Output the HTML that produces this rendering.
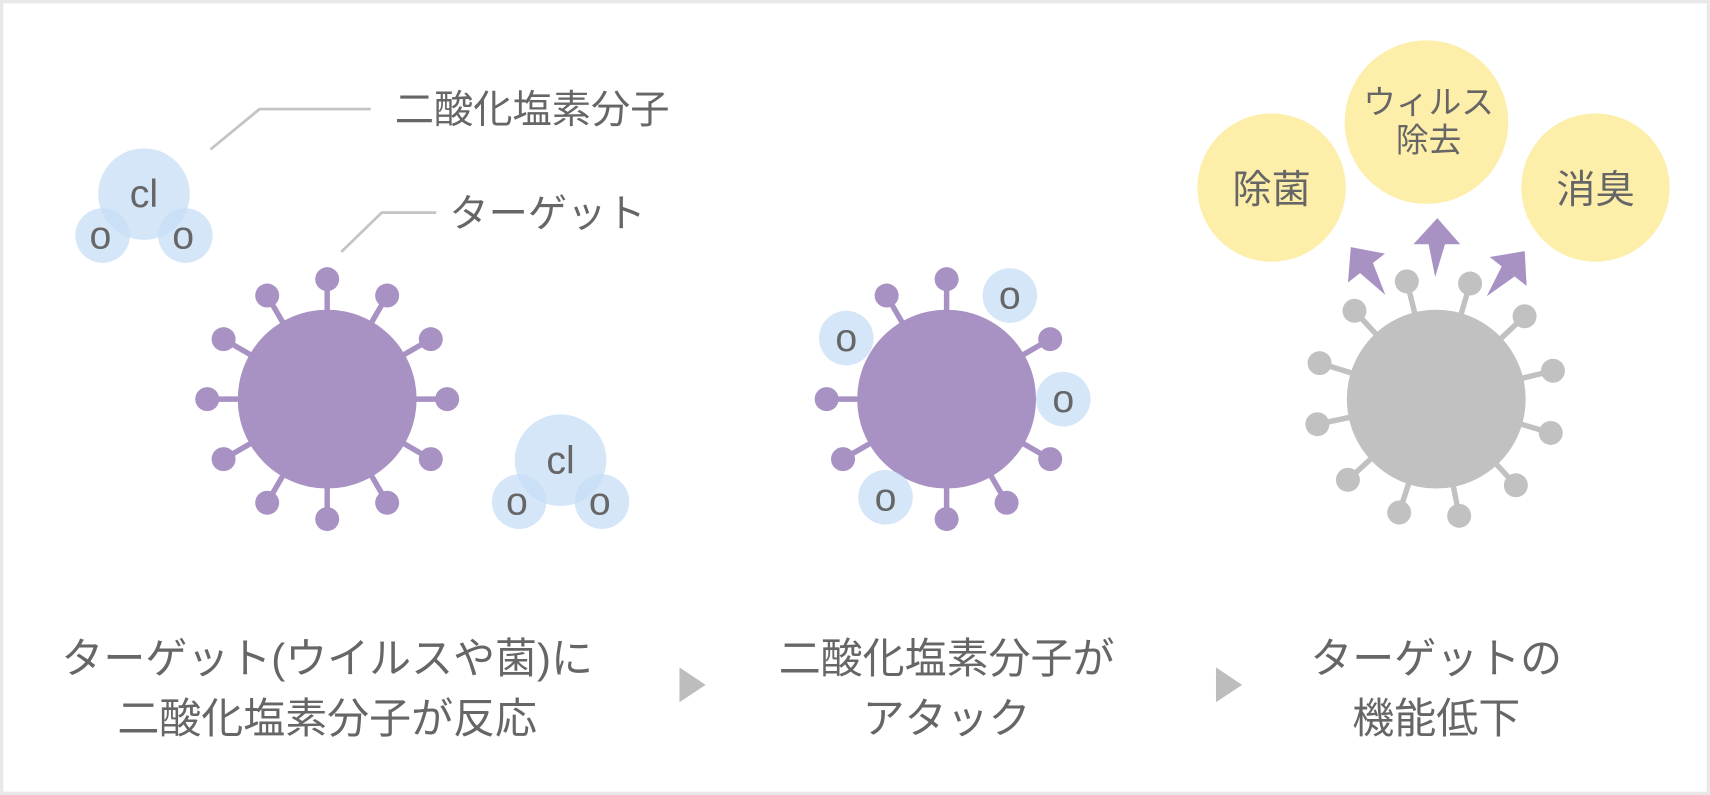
<!DOCTYPE html>
<html><head><meta charset="utf-8"><style>
html,body{margin:0;padding:0;background:#fff}
svg{display:block}
text{font-family:"Liberation Sans","Noto Sans CJK JP",sans-serif;fill:#666}
</style></head><body>
<svg width="1710" height="795" viewBox="0 0 1568 729" xmlns="http://www.w3.org/2000/svg">
<rect x="1.5" y="1.5" width="1565" height="726" fill="#fff" stroke="#e8e8e8" stroke-width="3"/>
<defs>
<g id="pv">
 <g stroke="#a892c3" stroke-width="5">
  <line x1="0" y1="0" x2="0" y2="-110"/><line x1="0" y1="0" x2="55" y2="-95"/><line x1="0" y1="0" x2="95" y2="-55"/>
  <line x1="0" y1="0" x2="110" y2="0"/><line x1="0" y1="0" x2="95" y2="55"/><line x1="0" y1="0" x2="55" y2="95"/>
  <line x1="0" y1="0" x2="0" y2="110"/><line x1="0" y1="0" x2="-55" y2="95"/><line x1="0" y1="0" x2="-95" y2="55"/>
  <line x1="0" y1="0" x2="-110" y2="0"/><line x1="0" y1="0" x2="-95" y2="-55"/><line x1="0" y1="0" x2="-55" y2="-95"/>
 </g>
 <g fill="#a892c3">
  <circle r="82"/>
  <circle cx="0" cy="-110" r="11"/><circle cx="55" cy="-95" r="11"/><circle cx="95" cy="-55" r="11"/>
  <circle cx="110" cy="0" r="11"/><circle cx="95" cy="55" r="11"/><circle cx="55" cy="95" r="11"/>
  <circle cx="0" cy="110" r="11"/><circle cx="-55" cy="95" r="11"/><circle cx="-95" cy="55" r="11"/>
  <circle cx="-110" cy="0" r="11"/><circle cx="-95" cy="-55" r="11"/><circle cx="-55" cy="-95" r="11"/>
 </g>
</g>
<g id="mol">
 <g fill="#c6ddf6" fill-opacity="0.75">
  <circle cx="0" cy="0" r="42"/><circle cx="-38" cy="38" r="25"/><circle cx="38" cy="38" r="25"/>
 </g>
 <text x="0" y="12" font-size="36" text-anchor="middle">cl</text>
 <text x="-40" y="50" font-size="36" text-anchor="middle">o</text>
 <text x="36" y="50" font-size="36" text-anchor="middle">o</text>
</g>
<g id="o">
 <circle r="25" fill="#c6ddf6" fill-opacity="0.75"/>
 <text x="0" y="12" font-size="36" text-anchor="middle">o</text>
</g>
</defs>

<use href="#mol" x="132" y="178"/>
<use href="#mol" x="514" y="422"/>
<polyline points="193,137 238,100 340,100" fill="none" stroke="#c4c4c4" stroke-width="2.5"/>
<polyline points="313,231 350,195 400,195" fill="none" stroke="#c4c4c4" stroke-width="2.5"/>
<text x="362" y="113" font-size="36">二酸化塩素分子</text>
<text x="412" y="208" font-size="36">ターゲット</text>
<use href="#pv" x="300" y="366"/>

<g transform="translate(868 366)">
 <g stroke="#a892c3" stroke-width="5">
  <line x1="0" y1="0" x2="0" y2="-110"/><line x1="0" y1="0" x2="95" y2="-55"/>
  <line x1="0" y1="0" x2="95" y2="55"/><line x1="0" y1="0" x2="55" y2="95"/>
  <line x1="0" y1="0" x2="0" y2="110"/><line x1="0" y1="0" x2="-95" y2="55"/>
  <line x1="0" y1="0" x2="-110" y2="0"/><line x1="0" y1="0" x2="-55" y2="-95"/>
 </g>
 <g fill="#a892c3">
  <circle r="82"/>
  <circle cx="0" cy="-110" r="11"/><circle cx="95" cy="-55" r="11"/>
  <circle cx="95" cy="55" r="11"/><circle cx="55" cy="95" r="11"/>
  <circle cx="0" cy="110" r="11"/><circle cx="-95" cy="55" r="11"/>
  <circle cx="-110" cy="0" r="11"/><circle cx="-55" cy="-95" r="11"/>
 </g>
</g>
<use href="#o" x="926" y="271"/>
<use href="#o" x="776" y="310"/>
<use href="#o" x="975" y="366"/>
<use href="#o" x="812" y="456"/>

<g stroke="#c1c1c1" stroke-width="5">
 <line x1="1317" y1="366" x2="1242" y2="285"/><line x1="1317" y1="366" x2="1290" y2="258"/><line x1="1317" y1="366" x2="1348" y2="260"/>
 <line x1="1317" y1="366" x2="1398" y2="290"/><line x1="1317" y1="366" x2="1210" y2="333"/><line x1="1317" y1="366" x2="1424" y2="340"/>
 <line x1="1317" y1="366" x2="1208" y2="389"/><line x1="1317" y1="366" x2="1422" y2="397"/><line x1="1317" y1="366" x2="1236" y2="440"/>
 <line x1="1317" y1="366" x2="1390" y2="445"/><line x1="1317" y1="366" x2="1283" y2="470"/><line x1="1317" y1="366" x2="1338" y2="473"/>
</g>
<g fill="#c1c1c1">
 <circle cx="1317" cy="366" r="82"/>
 <circle cx="1242" cy="285" r="11"/><circle cx="1290" cy="258" r="11"/><circle cx="1348" cy="260" r="11"/>
 <circle cx="1398" cy="290" r="11"/><circle cx="1210" cy="333" r="11"/><circle cx="1424" cy="340" r="11"/>
 <circle cx="1208" cy="389" r="11"/><circle cx="1422" cy="397" r="11"/><circle cx="1236" cy="440" r="11"/>
 <circle cx="1390" cy="445" r="11"/><circle cx="1283" cy="470" r="11"/><circle cx="1338" cy="473" r="11"/>
</g>
<g fill="#a892c3">
 <polygon points="1318,200 1339,224 1325,224 1316,254 1310,224 1296,224"/>
 <g transform="translate(-6 -16)"><polygon points="1318,200 1339,224 1325,224 1316,254 1310,224 1296,224" transform="rotate(-38 1316 230) translate(-66 -4)"/></g>
 <g transform="translate(6 -16)"><polygon points="1318,200 1339,224 1325,224 1316,254 1310,224 1296,224" transform="rotate(38 1316 230) translate(68 -4)"/></g>
</g>
<g fill="#fdeeaa">
 <circle cx="1166" cy="172" r="68"/><circle cx="1308" cy="112" r="75"/><circle cx="1463" cy="172" r="68"/>
</g>
<text x="1166" y="186" font-size="36" text-anchor="middle">除菌</text>
<text x="1463" y="186" font-size="36" text-anchor="middle">消臭</text>
<text x="1310" y="104" font-size="30" text-anchor="middle">ウィルス</text>
<text x="1310" y="139" font-size="30" text-anchor="middle">除去</text>

<g font-size="38.5" text-anchor="middle">
 <text x="300" y="617">ターゲット(ウイルスや菌)に</text>
 <text x="300" y="672">二酸化塩素分子が反応</text>
 <text x="868" y="617">二酸化塩素分子が</text>
 <text x="868" y="672">アタック</text>
 <text x="1317" y="617">ターゲットの</text>
 <text x="1317" y="672">機能低下</text>
</g>
<polygon points="623,612 623,644 647,628" fill="#bdbdbd"/>
<polygon points="1115,612 1115,644 1139,628" fill="#bdbdbd"/>
</svg>
</body></html>
